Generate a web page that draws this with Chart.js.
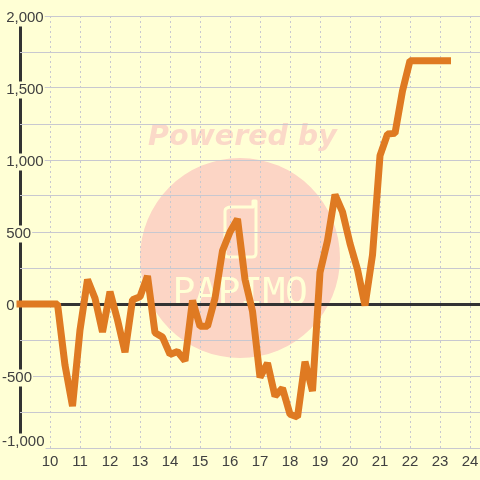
<!DOCTYPE html>
<html>
<head>
<meta charset="utf-8">
<style>
  html, body { margin: 0; padding: 0; background: #ffffd5; }
  canvas { display: block; }
</style>
<script src="https://cdn.jsdelivr.net/npm/chart.js@4"></script>
</head>
<body>
<canvas id="balanceChart" width="480" height="480"></canvas>
<script>
// Hours of the day, quarter-hour steps from 9:00 to 23:15
const hours = [
    9, 9.25, 9.5, 9.75, 10, 10.25, 10.5, 10.75, 11, 11.25, 11.5, 11.75,
    12, 12.25, 12.5, 12.75, 13, 13.25, 13.5, 13.75, 14, 14.25, 14.5, 14.75,
    15, 15.25, 15.5, 15.75, 16, 16.25, 16.5, 16.75, 17, 17.25, 17.5, 17.75,
    18, 18.25, 18.5, 18.75, 19, 19.25, 19.5, 19.75, 20, 20.25, 20.5, 20.75,
    21, 21.25, 21.5, 21.75, 22, 22.25, 22.5, 22.75, 23, 23.25
];
const values = [
    0, 0, 0, 0, 0, 0, -425, -710, -180, 170, 40, -195,
    85, -110, -335, 30, 50, 195, -200, -230, -350, -330, -395, 25,
    -155, -155, 40, 370, 500, 590, 170, -50, -510, -410, -640, -585,
    -765, -785, -400, -605, 220, 440, 760, 640, 420, 240, -10, 340,
    1030, 1180, 1185, 1480, 1690, 1690, 1690, 1690, 1690, 1690
];
const yMajorEvery = 500;
const xTickLabels = ['10', '11', '12', '13', '14', '15', '16', '17', '18', '19', '20', '21', '22', '23', '24'];

const COLORS = {
    page: '#ffffd5',
    line: '#df7a22',
    axis: '#333333',
    grid: '#c8c8d0',
    text: '#404040',
    mark: '#fcd5c5',
    markText: '#fbd9c8',
};

const FONT = "'Liberation Sans', sans-serif";

// Watermark sits under the grid
const watermark = {
    id: 'watermark',
    beforeDraw(chart) {
        const c = chart.ctx;
        c.save();
        c.fillStyle = COLORS.mark;
        c.beginPath();
        c.arc(240, 258, 100, 0, Math.PI * 2);
        c.fill();

        c.fillStyle = COLORS.markText;
        c.font = "italic bold 28.5px 'DejaVu Sans'";
        c.textAlign = 'left';
        c.textBaseline = 'alphabetic';
        c.fillText('Powered by', 148, 145);

        c.strokeStyle = COLORS.page;
        c.lineWidth = 3;
        c.lineJoin = 'round';
        c.lineCap = 'round';
        c.beginPath();
        c.moveTo(232, 207);
        c.lineTo(253, 207);
        c.lineTo(253, 201);
        c.lineTo(256, 201);
        c.lineTo(256, 253);
        c.quadraticCurveTo(256, 257, 252, 257);
        c.lineTo(229, 257);
        c.quadraticCurveTo(225, 257, 225, 253);
        c.lineTo(225, 211);
        c.quadraticCurveTo(225, 207, 232, 207);
        c.stroke();

        c.fillStyle = COLORS.page;
        c.font = "38px 'DejaVu Sans Mono'";
        c.textAlign = 'center';
        ['P', 'A', 'P', 'I', 'M', 'O'].forEach((ch, i) => {
            c.fillText(ch, 184 + i * 22.5, 304);
        });
        c.restore();
    }
};

// y labels sit a little under their gridline, the lowest one is lifted off the x axis
function nudgeYLabels(scale) {
    if (scale.labelsNudged) return;   // beforeUpdate fires on every layout pass
    scale.labelsNudged = true;
    const compute = scale._computeLabelItems;
    scale._computeLabelItems = function (area) {
        const items = compute.call(this, area);
        items.forEach(item => {
            const lowest = String(item.label).includes('-1,000');
            item.options.translation[1] += lowest ? -6 : 2;
        });
        return items;
    };
}

new Chart(document.getElementById('balanceChart'), {
    type: 'line',
    data: {
        labels: hours,
        datasets: [{
            data: hours.map((h, i) => ({ x: h, y: values[i] })),
            borderColor: COLORS.line,
            borderWidth: 7,
            borderCapStyle: 'square',
            borderJoinStyle: 'bevel',
            pointRadius: 0,
            tension: 0,
            clip: false,
        }]
    },
    options: {
        responsive: false,
        animation: false,
        layout: { padding: { top: 16, left: 20, right: 0, bottom: 0 } },
        plugins: { legend: { display: false }, tooltip: { enabled: false } },
        scales: {
            x: {
                type: 'linear',
                min: 9,
                max: 24.3333,
                border: { display: false, dash: ctx => ctx.tick && ctx.tick.value === 9 ? [] : [2, 3] },
                grid: {
                    drawTicks: false,
                    color: ctx => ctx.tick && ctx.tick.value === 9 ? COLORS.axis : COLORS.grid,
                    lineWidth: ctx => ctx.tick && ctx.tick.value === 9 ? 3 : 1,
                },
                ticks: {
                    stepSize: 1,
                    includeBounds: false,
                    autoSkip: false,
                    maxRotation: 0,
                    padding: 5,
                    color: COLORS.text,
                    font: { family: FONT, size: 15 },
                    callback: v => xTickLabels[v - 10] ?? '',
                },
                afterFit: s => { s.height = 32; s.paddingLeft = 0; s.paddingRight = 0; },
            },
            y: {
                min: -1000,
                max: 2000,
                border: { display: false },
                grid: {
                    drawTicks: false,
                    color: ctx => ctx.tick && ctx.tick.value === 0 ? COLORS.axis : COLORS.grid,
                    lineWidth: ctx => ctx.tick && ctx.tick.value === 0 ? 3 : 1,
                },
                ticks: {
                    stepSize: 250,
                    autoSkip: false,
                    mirror: true,
                    padding: -18,
                    color: COLORS.text,
                    font: { family: FONT, size: 15, lineHeight: 1 },
                    showLabelBackdrop: true,
                    backdropColor: COLORS.page,
                    backdropPadding: 1,
                    callback: v => {
                        if (v % yMajorEvery !== 0) return '';
                        const s = Math.abs(v).toLocaleString('en-US');
                        return v < 0 ? '-' + s : '\u00a0' + s;
                    },
                },
                beforeUpdate: nudgeYLabels,
                afterFit: s => { s.width = 0; },
            }
        }
    },
    plugins: [watermark]
});
</script>
</body>
</html>
